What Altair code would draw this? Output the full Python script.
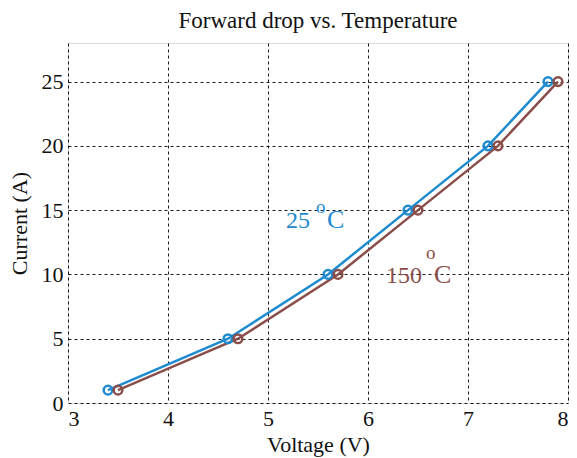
import altair as alt
import pandas as pd

# Data
voltage_25 = [3.4, 4.6, 5.6, 6.4, 7.2, 7.8]
current_25 = [1, 5, 10, 15, 20, 25]
voltage_150 = [3.5, 4.7, 5.7, 6.5, 7.3, 7.9]
current_150 = [1, 5, 10, 15, 20, 25]
series_names = ["25", "150"]
series_colors = ["#1e8bd0", "#8a4e4a"]

# annotation anchors (data coordinates of label start)
label_text = ["25", "150"]
label_x = [5.18, 6.18]
label_y = [13.61, 9.33]
# annotation layout (pixels): superscript rise, gap to superscript, gap to "C"
sup_rise = [15, 24]
sup_gap = [6, 4]
c_gap = [17, 12]

df = pd.DataFrame({
    "V": voltage_25 + voltage_150,
    "I": current_25 + current_150,
    "T": [series_names[0]] * len(voltage_25) + [series_names[1]] * len(voltage_150),
    "order": list(range(len(voltage_25))) + list(range(len(voltage_150))),
})
lab = pd.DataFrame({"t": label_text, "x": label_x, "y": label_y, "T": series_names,
                    "rise": sup_rise, "sg": sup_gap, "cg": c_gap})

FONT = "Liberation Serif"
W, H = 500, 360
XMIN, XMAX = 3, 8
YMIN, YMAX = 0, 28
xs = alt.Scale(domain=[XMIN, XMAX], nice=False, zero=False)
ys = alt.Scale(domain=[YMIN, YMAX], nice=False)
col = alt.Scale(domain=series_names, range=series_colors)
PXU = W / (XMAX - XMIN)   # pixels per volt
PYU = H / (YMAX - YMIN)   # pixels per amp

common = dict(grid=True, gridDash=[3, 3], gridColor="#000000", gridWidth=1,
              gridOpacity=0.9, ticks=False, domain=False, labelFont=FONT,
              labelFontSize=22, labelColor="#111111", titleFont=FONT,
              titleFontSize=22, titleFontWeight="normal", titleColor="#111111")
xax = alt.Axis(values=[3, 4, 5, 6, 7, 8], format="d", title="Voltage (V)",
               labelPadding=5, titlePadding=5, **common)
yax = alt.Axis(values=[0, 5, 10, 15, 20, 25], format="d", title="Current (A)",
               labelPadding=5, titlePadding=10, **common)

base = alt.Chart(df)
lines = base.mark_line(strokeWidth=2.5).encode(
    x=alt.X("V:Q", scale=xs, axis=xax),
    y=alt.Y("I:Q", scale=ys, axis=yax),
    color=alt.Color("T:N", scale=col, legend=None),
    detail="T:N",
    order="order:Q",
)
pts = base.mark_point(shape="circle", filled=False, size=75, strokeWidth=2.5, opacity=1).encode(
    x=alt.X("V:Q", scale=xs),
    y=alt.Y("I:Q", scale=ys),
    color=alt.Color("T:N", scale=col, legend=None),
)

lb = alt.Chart(lab)
num = lb.mark_text(font=FONT, fontSize=24, align="left", baseline="alphabetic").encode(
    x=alt.X("x:Q", scale=xs), y=alt.Y("y:Q", scale=ys), text="t:N",
    color=alt.Color("T:N", scale=col, legend=None))
sup = lb.transform_calculate(
    xs2=f"datum.x + (length(datum.t) * 12 + datum.sg) / {PXU}",
    ys2=f"datum.y + datum.rise / {PYU}",
).mark_text(font=FONT, fontSize=19, align="left", baseline="alphabetic").encode(
    x=alt.X("xs2:Q", scale=xs), y=alt.Y("ys2:Q", scale=ys),
    text=alt.value("o"),
    color=alt.Color("T:N", scale=col, legend=None),
)
cc = lb.transform_calculate(
    xc=f"datum.x + (length(datum.t) * 12 + datum.cg) / {PXU}"
).mark_text(font=FONT, fontSize=26, align="left", baseline="alphabetic").encode(
    x=alt.X("xc:Q", scale=xs), y=alt.Y("y:Q", scale=ys),
    text=alt.value("C"),
    color=alt.Color("T:N", scale=col, legend=None),
)

chart = alt.layer(lines, pts, num, sup, cc).properties(
    width=W, height=H,
    title=alt.TitleParams("Forward drop vs. Temperature", font=FONT, fontSize=23,
                          fontWeight="normal", color="#111111", anchor="middle", offset=10),
    autosize=alt.AutoSizeParams(type="none"),
    padding={"left": 60, "top": 35, "right": 1, "bottom": 54},
).configure_view(stroke="#000000", strokeWidth=1.5).configure(background="white")

chart.save("out.html", embed_options={"renderer": "svg", "actions": False})
